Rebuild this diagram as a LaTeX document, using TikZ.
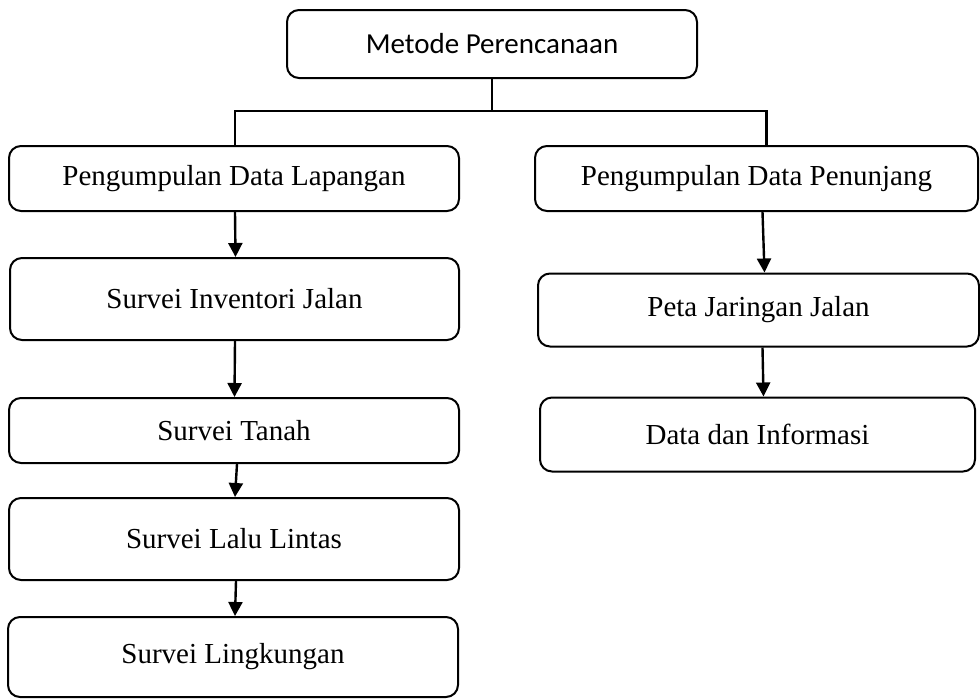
\documentclass[tikz,border=0pt]{standalone}
\usepackage{fontspec}
\setmainfont{Liberation Serif}
\newfontfamily\calibri{Carlito}
\usetikzlibrary{arrows.meta}
\begin{document}
\begin{tikzpicture}[x=0.5pt,y=-0.5pt]
        \useasboundingbox (0,0) rectangle (980,698);
        \begin{scope}[every node/.style={rectangle,rounded corners=6pt,draw,line width=1pt,inner sep=0pt,font=\fontsize{14.5}{17}\selectfont}]
          \node[minimum width=205pt,minimum height=34pt,font=\calibri\fontsize{14.5}{17}\selectfont] (metode) at (492,44) {Metode Perencanaan};
          \node[minimum width=225pt,minimum height=32.5pt] (lap) at (234,178.5) {Pengumpulan Data Lapangan};
          \node[minimum width=224.5pt,minimum height=41pt] (inv) at (234.5,299) {Survei Inventori Jalan};
          \node[minimum width=225pt,minimum height=32.5pt] (tanah) at (234,430.5) {Survei Tanah};
          \node[minimum width=225pt,minimum height=41pt] (lalin) at (234,539) {Survei Lalu Lintas};
          \node[minimum width=225pt,minimum height=40pt] (lingk) at (233,657) {Survei Lingkungan};
          \node[minimum width=221.5pt,minimum height=32.5pt] (tunjang) at (756.5,178.5) {Pengumpulan Data Penunjang};
          \node[minimum width=220.5pt,minimum height=36.5pt] (peta) at (758.5,310) {Peta Jaringan Jalan};
          \node[minimum width=217.5pt,minimum height=37pt] (info) at (757.5,434.5) {Data dan Informasi};
        \end{scope}
        \coordinate (split) at (492,111);
        \begin{scope}[line width=1.2pt]
          \draw (metode.south) -- (split);
          \draw ([xshift=0.5pt]lap.north) |- (split) -| ([xshift=5pt]tunjang.north);
        \end{scope}
        \begin{scope}[every edge/.style={draw=black,line width=1.2pt,-{Triangle[width=7pt,length=7pt]}}]
          \path ([xshift=0.5pt]lap.south) edge ([xshift=0.5pt]inv.north);
          \path ([xshift=0.25pt]inv.south) edge ([xshift=0.25pt]tanah.north);
          \path ([xshift=1.5pt]tanah.south) edge ([xshift=0.5pt]lalin.north);
          \path ([xshift=1pt]lalin.south) edge ([xshift=1pt]lingk.north);
          \path ([xshift=3pt]tunjang.south) edge ([xshift=3pt]peta.north);
          \path ([xshift=2pt]peta.south) edge ([xshift=3pt]info.north);
        \end{scope}
\end{tikzpicture}
\end{document}
